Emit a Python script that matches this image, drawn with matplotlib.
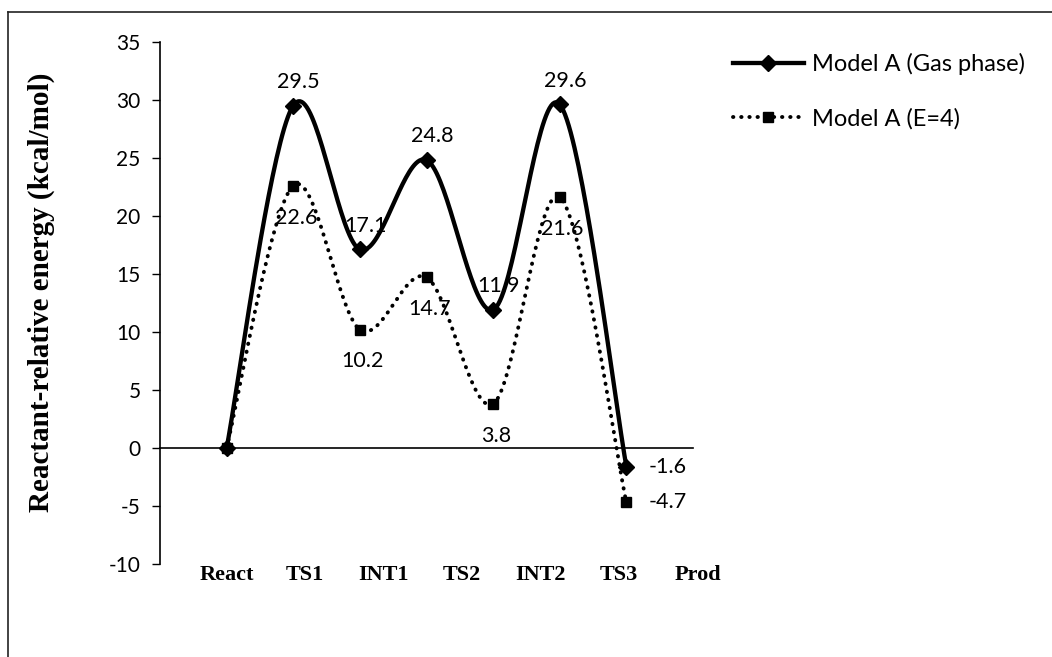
import numpy as np
import matplotlib.pyplot as plt
from matplotlib.lines import Line2D

# energy profile along the reaction path (kcal/mol)
STEPS = ['React', 'TS1', 'INT1', 'TS2', 'INT2', 'TS3', 'Prod']
GAS = [0, 29.5, 17.1, 24.8, 11.9, 29.6, -1.6]
SOLV = [0, 22.6, 10.2, 14.7, 3.8, 21.6, -4.7]
YTICKS = [-10, -5, 0, 5, 10, 15, 20, 25, 30, 35]

NUM_FONT = 'Lato'
W, H = 1052, 657
DOTS = (0, (0.1, 2.0))


def smooth(x, y, n=40):
    # smoothed line like the spreadsheet one: cubic Bezier through each point
    P = np.column_stack([x, y]).astype(float)
    P = np.vstack([P[:1], P, P[-1:]])
    t = np.linspace(0, 1, n)[:, None]
    out = []
    for j in range(len(P) - 3):
        p0, p1, p2, p3 = P[j], P[j + 1], P[j + 2], P[j + 3]
        c1 = p1 + (p2 - p0) / 6
        c2 = p2 - (p3 - p1) / 6
        seg = (1 - t)**3 * p1 + 3 * (1 - t)**2 * t * c1 + 3 * (1 - t) * t**2 * c2 + t**3 * p2
        out.append(seg)
    out = np.vstack(out)
    return out[:, 0], out[:, 1]


fig = plt.figure(figsize=(W / 100, H / 100), dpi=100)
ax = fig.add_axes([160 / W, 1 - 564 / H, 533 / W, (564 - 41.7) / H])

x = np.arange(len(GAS))

sx, sy = smooth(x, GAS)
ax.plot(sx, sy, color='black', lw=3.1, solid_capstyle='round', zorder=3)
ax.plot(x, GAS, ls='none', marker='D', ms=8.5, color='black', zorder=4)

sx, sy = smooth(x, SOLV)
ax.plot(sx, sy, color='black', lw=2.8, ls=DOTS, dash_capstyle='round', zorder=3)
ax.plot(x, SOLV, ls='none', marker='s', ms=7.5, color='black', zorder=4)

# data labels (no label on the reactant point)
for i in range(1, len(GAS)):
    if i == len(GAS) - 1:
        off, ha = (16, 0), 'left'
    else:
        off, ha = (4, 17), 'center'
    ax.annotate(f'{GAS[i]:.1f}', (x[i], GAS[i]), xytext=off, textcoords='offset points',
                ha=ha, va='center', fontsize=15.5, family=NUM_FONT)
for i in range(1, len(SOLV)):
    if i == len(SOLV) - 1:
        off, ha = (16, 0), 'left'
    else:
        off, ha = (2, -23), 'center'
    ax.annotate(f'{SOLV[i]:.1f}', (x[i], SOLV[i]), xytext=off, textcoords='offset points',
                ha=ha, va='center', fontsize=15.5, family=NUM_FONT)

ax.set_xlim(-1, 7)
ax.set_ylim(-10, 35)
ax.set_yticks(YTICKS)
ax.set_yticklabels([str(v) for v in YTICKS], family=NUM_FONT, fontsize=15)
ax.tick_params(axis='y', direction='out', length=6, width=1, pad=8)
ax.set_xticks([])
for s in ['top', 'right']:
    ax.spines[s].set_visible(False)
ax.spines['bottom'].set_position(('data', 0))
ax.spines['bottom'].set_linewidth(1.2)
ax.spines['left'].set_linewidth(1.2)

# step names under the plot
label_x = np.linspace(0, 7.07, len(STEPS))
for lx, name in zip(label_x, STEPS):
    ax.text(lx, -0.022, name, transform=ax.get_xaxis_transform(), ha='center', va='center',
            family='Liberation Serif', fontweight='bold', fontsize=16, clip_on=False)

ax.set_ylabel('Reactant-relative energy (kcal/mol)', family='Liberation Serif',
              fontweight='bold', fontsize=21)
ax.yaxis.set_label_coords((55 - 160) / 533, (564 - 292) / 522)

handles = [
    Line2D([], [], color='black', lw=3.1, marker='D', ms=8.5),
    Line2D([], [], color='black', lw=2.8, ls=DOTS, dash_capstyle='round',
           marker='s', ms=7.5),
]
fig.legend(handles, ['Model A (Gas phase)', 'Model A (E=4)'], loc='upper left',
           bbox_to_anchor=(733 / W, 1 - 53 / H), frameon=False, borderpad=0,
           borderaxespad=0, handlelength=3.0, handletextpad=0.35, labelspacing=1.4,
           prop={'family': NUM_FONT, 'size': 17})

# outer frame of the chart area
fig.add_artist(Line2D([8 / W, 8 / W], [0, 1 - 12 / H], transform=fig.transFigure,
                      color='#222222', lw=1.2))
fig.add_artist(Line2D([8 / W, 1], [1 - 12 / H, 1 - 12 / H], transform=fig.transFigure,
                      color='#222222', lw=1.2))

fig.savefig('out.png', dpi=100)
